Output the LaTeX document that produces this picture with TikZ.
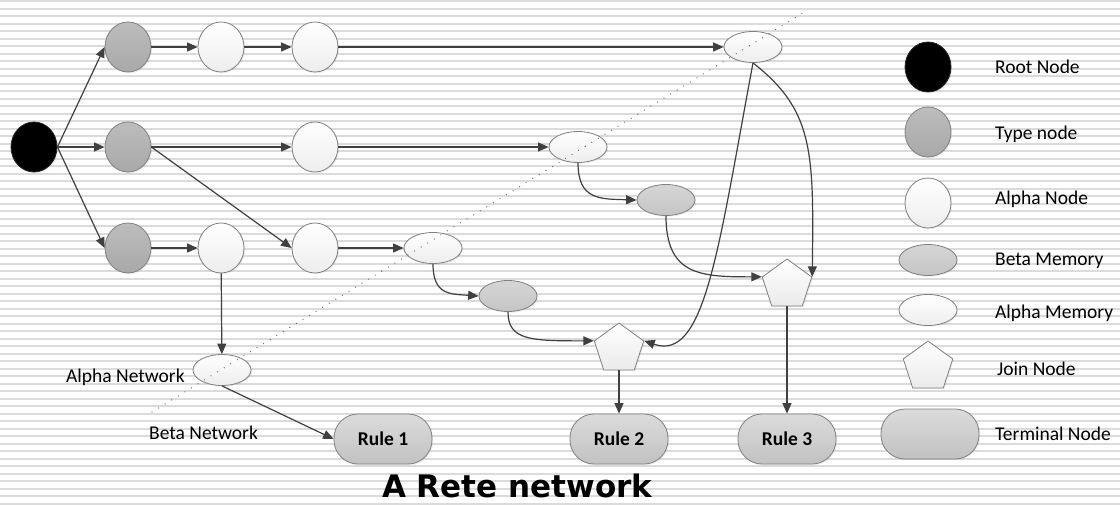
\documentclass[tikz,border=0pt]{standalone}
\usepackage{fontspec}
\setmainfont{Carlito}
\newfontfamily\titlefont{DejaVu Sans}
\usetikzlibrary{shapes.geometric,arrows.meta,shadows}
\begin{document}
\begin{tikzpicture}[x=1pt,y=-1pt,
  bgline/.style={draw=black!14, line width=2pt},
  conn/.style={draw=black!75, line width=1.2pt, -{Triangle[length=10.5pt,width=9pt]}},
  base/.style={inner sep=0pt, line width=0.8pt, draw=black!50, drop shadow={shadow xshift=1.2pt, shadow yshift=-1.2pt, opacity=0.12}},
  roundnode/.style={base, ellipse, minimum width=46pt, minimum height=50pt},
  rootnode/.style={roundnode, fill=black, draw=black!85},
  typenode/.style={roundnode, top color=black!26, bottom color=black!34},
  alphanode/.style={roundnode, top color=white, bottom color=black!7},
  betamem/.style={base, ellipse, minimum width=58pt, minimum height=31pt, top color=black!16, bottom color=black!23},
  alphamem/.style={base, ellipse, minimum width=58pt, minimum height=31pt, top color=white, bottom color=black!7},
  joinnode/.style={base, regular polygon, regular polygon sides=5, minimum size=52pt, top color=white, bottom color=black!8},
  termnode/.style={base, rectangle, rounded corners=24pt, minimum width=98pt, minimum height=50pt, top color=black!14, bottom color=black!24, font=\bfseries\fontsize{19.5}{22}\selectfont},
  lbl/.style={inner sep=0pt, anchor=base west, font=\fontsize{19.5}{22}\selectfont},
  dotline/.style={draw=black!60, line width=1.3pt, line cap=round, dash pattern=on 0pt off 7.7pt}
]
\useasboundingbox (0,0) rectangle (1120,504);
\fill[white] (0,0) rectangle (1120,504);
\foreach \k in {0,...,67} \draw[bgline] (0,1+7.5*\k) -- (1120,1+7.5*\k);

% main nodes
\node[rootnode] (root) at (34,147) {};
\node[typenode] (t1) at (128,47) {};
\node[typenode] (t2) at (128,147) {};
\node[typenode] (t3) at (128,248) {};
\node[alphanode] (a1) at (221,47) {};
\node[alphanode] (a2) at (315,47) {};
\node[alphanode] (a3) at (315,147) {};
\node[alphanode] (a4) at (221,248) {};
\node[alphanode] (a5) at (315,248) {};
\node[alphamem] (am1) at (753,47) {};
\node[alphamem] (am2) at (578,147) {};
\node[alphamem] (am3) at (433,248) {};
\node[alphamem] (am4) at (222,370) {};
\node[betamem] (bm1) at (666,200) {};
\node[betamem] (bm2) at (508,296) {};
\node[joinnode] (j1) at (787,285) {};
\node[joinnode] (j2) at (619,349) {};
\node[termnode] (r1) at (383,439) {Rule 1};
\node[termnode] (r2) at (619,439) {Rule 2};
\node[termnode] (r3) at (787,439) {Rule 3};

% connectors
\draw[conn] (root.east) -- (t1.west);
\draw[conn] (root) -- (t2);
\draw[conn] (root.east) -- (t3.west);
\draw[conn] (t1) -- (a1);
\draw[conn] (a1) -- (a2);
\draw[conn] (a2) -- (am1);
\draw[conn] (t2) -- (a3);
\draw[conn] (a3) -- (am2);
\draw[conn] (t2.east) -- (a5.west);
\draw[conn] (t3) -- (a4);
\draw[conn] (a5) -- (am3);
\draw[conn] (a4) -- (am4);
\draw[conn] (am4.south) -- (r1.west);
\draw[conn] (am2.south) .. controls (578,200) and (600,199) .. (bm1.west);
\draw[conn] (am3.south) .. controls (433,295) and (450,294) .. (bm2.west);
\draw[conn] (bm1.south) .. controls (666,275) and (700,277) .. (j1.corner 2);
\draw[conn] (bm2.south) .. controls (508,340) and (530,341) .. (j2.corner 2);
\draw[conn] (am1.south) .. controls (718,250) and (705,362) .. (j2.corner 5);
\draw[conn] (am1.south) .. controls (813,110) and (814,150) .. (j1.corner 5);
\draw[conn] (j1.south) -- (r3.north);
\draw[conn] (j2.south) -- (r2.north);

% network divider
\coordinate (dl1) at (152,412);
\coordinate (dl2) at (806,11);
\draw[dotline] (dl1) -- (dl2);

\node[lbl] (alphanet) at (66,382) {Alpha Network};
\node[lbl] (betanet) at (149,439) {Beta Network};

% legend
\node[rootnode] (lroot) at (928,67) {};
\node[typenode] (ltype) at (928,132) {};
\node[alphanode] (lalpha) at (928,203) {};
\node[betamem] (lbeta) at (928,260) {};
\node[alphamem] (lamem) at (928,310) {};
\node[joinnode] (ljoin) at (928,367) {};
\node[termnode] (lterm) at (930,434) {};
\node[lbl] (troot) at (995,73.3) {Root Node};
\node[lbl] (ttype) at (995,139) {Type node};
\node[lbl] (talpha) at (995,204.3) {Alpha Node};
\node[lbl] (tbeta) at (995,265) {Beta Memory};
\node[lbl] (tamem) at (995,318.3) {Alpha Memory};
\node[lbl] (tjoin) at (997,375) {Join Node};
\node[lbl] (tterm) at (995,440) {Terminal Node};

% title
\node[inner sep=0pt, anchor=base west, font=\titlefont\bfseries\fontsize{31}{36}\selectfont] (title) at (382,497) {A Rete network};
\end{tikzpicture}
\end{document}
